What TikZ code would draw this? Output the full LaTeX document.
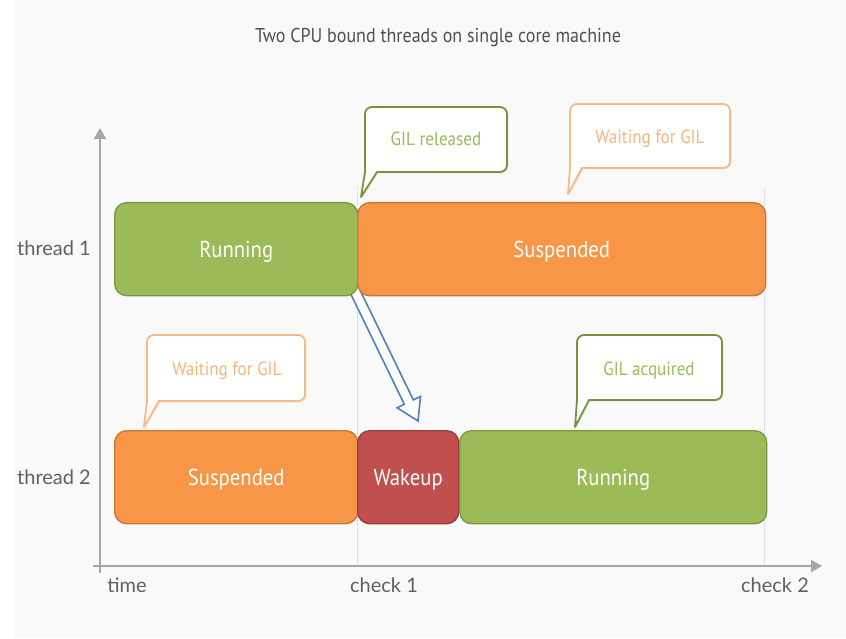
\documentclass[tikz,border=0pt]{standalone}
\usepackage{fontspec}
\usetikzlibrary{calc,arrows.meta,shadows}
\newfontfamily\condfont[FakeStretch=0.9]{PT Sans}
\newfontfamily\axisfont{Lato}

\definecolor{bggray}{HTML}{F9F9F9}
\definecolor{axisgray}{HTML}{A6A6A6}
\definecolor{labelgray}{HTML}{606060}
\definecolor{titlegray}{HTML}{505050}
\definecolor{gfill}{HTML}{9BBB59}
\definecolor{gline}{HTML}{7A9942}
\definecolor{ofill}{HTML}{F79646}
\definecolor{oline}{HTML}{C9773A}
\definecolor{rfill}{HTML}{C0504D}
\definecolor{rline}{HTML}{9B3F3C}
\definecolor{cgline}{HTML}{77933C}
\definecolor{cgtext}{HTML}{9BBB59}
\definecolor{coline}{HTML}{FAB887}
\definecolor{cotext}{HTML}{F9B47E}
\definecolor{arrowblue}{HTML}{4F81BD}
\definecolor{guideblue}{HTML}{B8CCE4}

% speech-bubble outline: tip x, tip y, left, top, right, bottom, style
\newcommand\drawcallout[7]{%
  \draw[#7] (#3+12,#6) -- (#1,#2) -- (#3,#6) [rounded corners=7pt]
    -- (#3,#4) -- (#5,#4) -- (#5,#6) -- ({(#3+#5)/2},#6) [sharp corners]
    -- cycle;}

\begin{document}
\begin{tikzpicture}[x=1pt,y=-1pt,
  statebox/.style={draw, line width=1.4pt, rounded corners=12pt,
    anchor=north west, minimum height=93pt, inner sep=0pt,
    text height=16pt, text depth=0pt,
    text=white, font=\condfont\fontsize{23}{26}\selectfont},
  runbox/.style={statebox, fill=gfill, draw=gline},
  suspbox/.style={statebox, fill=ofill, draw=oline},
  wakebox/.style={statebox, fill=rfill, draw=rline},
  bubble/.style={line width=1.8pt, fill=white, line join=round,
    drop shadow={opacity=0.12, shadow xshift=1.5pt, shadow yshift=-1.5pt}},
  gbubble/.style={bubble, draw=cgline},
  obubble/.style={bubble, draw=coline},
  bubbletext/.style={font=\condfont\fontsize{19}{22}\selectfont,
    text height=13.5pt, text depth=0pt},
  axis/.style={draw=axisgray, line width=2.2pt,
    -{Triangle[length=11pt,width=12pt]}},
  axislabel/.style={text=labelgray, font=\axisfont\fontsize{20}{24}\selectfont},
  guide/.style={draw=guideblue, line width=1pt, densely dotted}]

\useasboundingbox (0,0) rectangle (846,639);
\fill[bggray] (14,0) rectangle (846,637);

% title
\node[text=titlegray, font=\condfont\fontsize{20}{24}\selectfont]
  (title) at (438,38) {Two CPU bound threads on single core machine};

% check-point guides
\coordinate (g1top) at (357,186);
\coordinate (g1bot) at (357,566);
\coordinate (g2top) at (764,188);
\coordinate (g2bot) at (764,566);
\draw[guide] (g1top) -- (g1bot);
\draw[guide] (g2top) -- (g2bot);

% axes
\coordinate (yfoot) at (100,573);
\coordinate (ytip) at (100,128);
\coordinate (xfoot) at (93,566);
\coordinate (xtip) at (822,566);
\draw[axis] (yfoot) -- (ytip);
\draw[axis] (xfoot) -- (xtip);

% hand-over arrow from thread 1 to thread 2
\coordinate (a0) at (351,283);
\coordinate (a1) at (418,421);
\coordinate (ah) at ($(a1)!21pt!(a0)$);
\draw[draw=arrowblue, fill=white, line width=1.6pt, line join=miter]
  ($(a0)!5pt!90:(a1)$) -- ($(ah)!5pt!-90:(a0)$) -- ($(ah)!13pt!-90:(a0)$)
  -- (a1) -- ($(ah)!13pt!90:(a0)$) -- ($(ah)!5pt!90:(a0)$)
  -- ($(a0)!5pt!-90:(a1)$) -- cycle;

% thread 1
\node[runbox, minimum width=243pt] (run1) at (114,202) {Running};
\node[suspbox, minimum width=408pt] (susp1) at (357,202) {Suspended};

% thread 2
\node[suspbox, minimum width=243pt] (susp2) at (114,430) {Suspended};
\node[wakebox, minimum width=101pt] (wake2) at (357,430) {Wakeup};
\node[runbox, minimum width=307pt] (run2) at (459,430) {Running};

% axis labels
\node[axislabel] (t1) at (54,248) {thread 1};
\node[axislabel] (t2) at (54,477) {thread 2};
\node[axislabel] (time) at (127,585) {time};
\node[axislabel] (chk1) at (384,585) {check 1};
\node[axislabel] (chk2) at (775,585) {check 2};

% speech bubbles
\drawcallout{361}{197}{365}{107}{507}{172}{gbubble}
\node[bubbletext, text=cgtext] (rel) at (436,139) {GIL released};
\drawcallout{568}{194}{570}{104}{730}{168}{obubble}
\node[bubbletext, text=cotext] (wait1) at (650,137) {Waiting for GIL};
\drawcallout{144}{427}{147}{335}{305}{401}{obubble}
\node[bubbletext, text=cotext] (wait2) at (227,369) {Waiting for GIL};
\drawcallout{575}{427}{577}{335}{722}{400}{gbubble}
\node[bubbletext, text=cgtext] (acq) at (649,369) {GIL acquired};

\end{tikzpicture}
\end{document}
